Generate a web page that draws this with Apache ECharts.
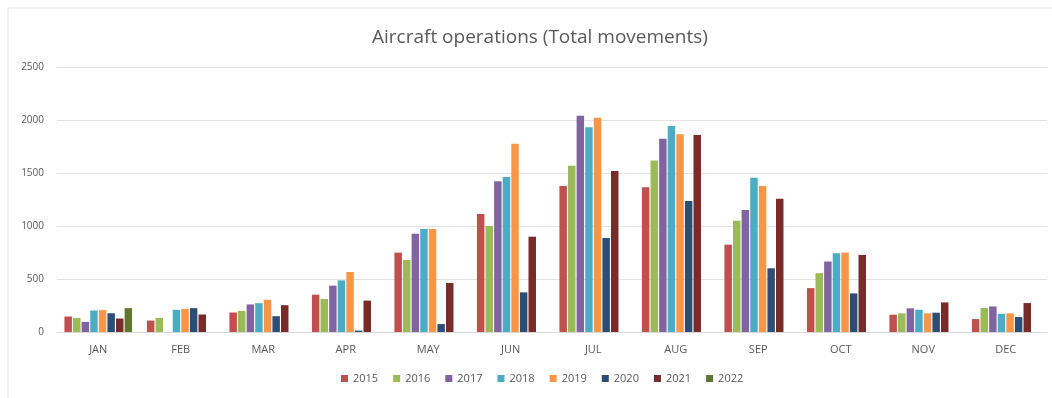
<!DOCTYPE html>
<html>
<head>
<meta charset="utf-8">
<script src="https://cdn.jsdelivr.net/npm/echarts@6/dist/echarts.min.js"></script>
<style>
  html, body { margin: 0; padding: 0; background: #fff; }
  #chart { width: 1052px; height: 398px; }
</style>
</head>
<body>
<div id="chart"></div>
<script>
// months on the x axis
const months = ['JAN', 'FEB', 'MAR', 'APR', 'MAY', 'JUN', 'JUL', 'AUG', 'SEP', 'OCT', 'NOV', 'DEC']
const years = ['2015', '2016', '2017', '2018', '2019', '2020', '2021', '2022']

// values (null = no bar)
const y2015 = [146, 108, 184, 352, 749, 1113, 1377, 1365, 824, 414, 163, 122]
const y2016 = [133, 133, 199, 311, 679, 1000, 1569, 1617, 1050, 555, 176, 226]
const y2017 = [95, null, 260, 437, 928, 1422, 2041, 1824, 1151, 665, 223, 241]
const y2018 = [203, 209, 272, 487, 972, 1462, 1931, 1944, 1456, 743, 210, 172]
const y2019 = [206, 218, 304, 566, 972, 1777, 2022, 1865, 1377, 749, 176, 176]
const y2020 = [177, 225, 149, 13, 75, 374, 887, 1236, 601, 364, 182, 141]
const y2021 = [127, 165, 253, 296, 462, 899, 1519, 1859, 1258, 727, 279, 273]
const y2022 = [225, null, null, null, null, null, null, null, null, null, null, null]

const yearData = [y2015, y2016, y2017, y2018, y2019, y2020, y2021, y2022]

// office-style palette
const colors = ['#C0504D', '#9BBB59', '#8064A2', '#4BACC6', '#F79646', '#2C4D75', '#772C2A', '#5F7530']

const chart = echarts.init(document.getElementById('chart'))

const series = years.map((name, i) => ({
  name,
  type: 'bar',
  data: yearData[i],
  barGap: '15%',
  barCategoryGap: '18%'
}))

const option = {
  animation: false,
  color: colors,
  textStyle: { fontFamily: 'Open Sans' },
  title: {
    text: 'Aircraft operations (Total movements)',
    left: 367,
    top: 23,
    textStyle: {
      fontFamily: 'Open Sans',
      fontSize: 19,
      fontWeight: 'normal',
      color: '#595959'
    }
  },
  graphic: [{
    type: 'rect',
    shape: { x: 8, y: 8, width: 1100, height: 420 },
    style: { fill: 'none', stroke: '#e6e6e6', lineWidth: 1 },
    silent: true
  }],
  legend: {
    data: years,
    bottom: 9,
    left: 336,
    icon: 'rect',
    itemWidth: 7,
    itemHeight: 7,
    itemGap: 15,
    textStyle: { fontSize: 11, color: '#595959' }
  },
  grid: {
    left: 57,
    right: 5,
    top: 67,
    bottom: 66
  },
  xAxis: {
    type: 'category',
    data: months,
    axisLine: { lineStyle: { color: '#d9d9d9' } },
    axisTick: { show: false },
    axisLabel: { color: '#595959', fontSize: 11, margin: 12 }
  },
  yAxis: {
    type: 'value',
    min: 0,
    max: 2500,
    interval: 500,
    axisLine: { show: false },
    axisTick: { show: false },
    axisLabel: { color: '#595959', fontSize: 10, margin: 13, formatter: v => String(v) },
    splitLine: { lineStyle: { color: '#e3e3e3' } }
  },
  series
}

chart.setOption(option)
</script>
</body>
</html>
